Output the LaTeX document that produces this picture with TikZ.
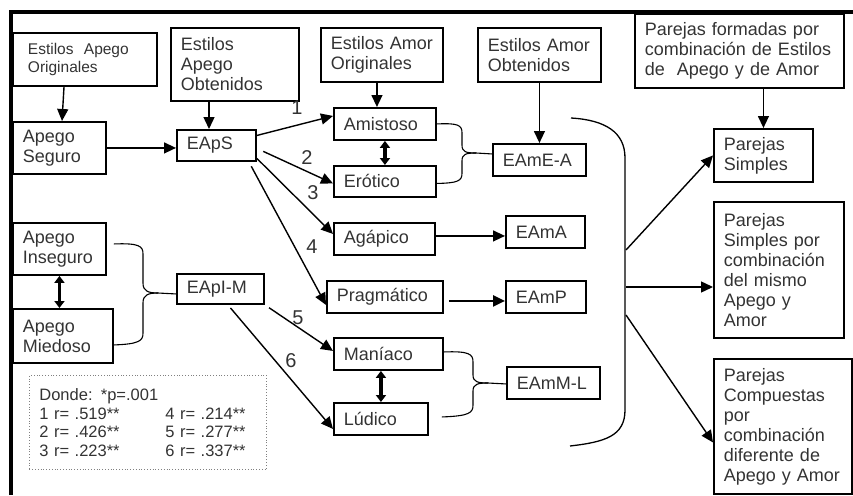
\documentclass[tikz,border=0pt]{standalone}
\usepackage{fontspec}
\setmainfont{Liberation Sans}
\usetikzlibrary{arrows.meta,positioning}
\tikzstyle{caja} = [draw=black, line width=1.9pt, rectangle, anchor=north west, align=left, inner xsep=10pt, inner ysep=0pt, text=black!80, font=\fontsize{18}{20}\selectfont]
\tikzstyle{flecha} = [line width=1.4pt, -{Triangle[length=12pt,width=11pt]}]
\tikzstyle{doble} = [line width=3.2pt, {Triangle[length=7pt,width=10pt]}-{Triangle[length=7pt,width=10pt]}]
\tikzstyle{llave} = [line width=1.1pt]
\tikzstyle{numero} = [text=black!80, font=\fontsize{20}{22}\selectfont]
\tikzstyle{marco} = [line width=3.5pt]

\begin{document}
\begin{tikzpicture}[x=1pt,y=-1pt]
	\useasboundingbox (0,0) rectangle (853,495);
	\draw[marco] (11,495) -- (11,12) -- (853,12);
	% cajas de arriba
	\node[caja, inner xsep=15pt, text width=114pt, minimum height=53pt, font=\fontsize{15.5}{18}\selectfont] (eao) at (12,32) {Estilos\ \ Apego\\Originales};
	\node[caja, text width=108pt, minimum height=73pt] (eaob) at (170,27) {Estilos\\Apego\\Obtenidos};
	\node[caja, text width=102pt, minimum height=54pt] (eamo) at (320,27) {Estilos~Amor\\Originales};
	\node[caja, text width=103pt, minimum height=54pt] (eamob) at (477,27) {Estilos~Amor\\Obtenidos};
	\node[caja, text width=189pt, minimum height=74pt] (pf) at (634,13) {Parejas~formadas~por\\combinaci\'on~de~Estilos\\de\ \ Apego y de Amor};
	% apego
	\node[caja, text width=73pt, minimum height=52pt] (seguro) at (12,121) {Apego\\Seguro};
	\node[caja, text width=73pt, minimum height=52pt] (inseguro) at (12,222) {Apego\\Inseguro};
	\node[caja, text width=80pt, minimum height=54pt] (miedoso) at (12,308) {Apego\\Miedoso};
	\node[caja, text width=59pt, minimum height=31pt] (eaps) at (176,129) {EApS};
	\node[caja, text width=67pt, minimum height=30pt] (eapim) at (176,273) {EApI-M};
	% amor
	\node[caja, text width=82pt, minimum height=32pt] (amistoso) at (333,107) {Amistoso};
	\node[caja, text width=82pt, minimum height=31pt] (erotico) at (333,165) {Er\'otico};
	\node[caja, text width=81pt, minimum height=32pt] (agapico) at (333,222) {Ag\'apico};
	\node[caja, text width=96pt, minimum height=32pt] (pragmatico) at (326,280) {Pragm\'atico};
	\node[caja, text width=89pt, minimum height=32pt] (maniaco) at (333,337) {Man\'iaco};
	\node[caja, text width=74pt, minimum height=32pt] (ludico) at (333,402) {L\'udico};
	\node[caja, text width=73pt, minimum height=32pt] (eamea) at (492,143) {EAmE-A};
	\node[caja, text width=59pt, minimum height=32pt] (eama) at (505,215) {EAmA};
	\node[caja, text width=60pt, minimum height=32pt] (eamp) at (505,280) {EAmP};
	\node[caja, text width=73pt, minimum height=32pt] (eamml) at (506,366) {EAmM-L};
	% parejas
	\node[caja, text width=79pt, minimum height=53pt] (psimples) at (713,128) {Parejas\\Simples};
	\node[caja, text width=110pt, minimum height=136pt] (mismo) at (713,201) {Parejas\\Simples por\\combinaci\'on\\del mismo\\Apego y\\Amor};
	\node[caja, text width=118pt, minimum height=135pt] (compuestas) at (713,358) {Parejas\\Compuestas\\por\\combinaci\'on\\diferente de\\Apego~y~Amor};
	% leyenda
	\node[caja, draw=black!50, line width=0.8pt, dotted, text width=217pt, minimum height=94pt, font=\fontsize{16.5}{18.5}\selectfont] (donde) at (29,375) {Donde: *p=.001\\\makebox[126pt][l]{1 r= .519**}4 r= .214**\\\makebox[126pt][l]{2 r= .426**}5 r= .277**\\\makebox[126pt][l]{3 r= .223**}6 r= .337**};

	% flechas verticales
	\draw[flecha] ([xshift=52pt]eao.south west) -- ([xshift=50pt]seguro.north west);
	\draw[flecha] ([xshift=39pt]eaob.south west) -- ([xshift=33pt]eaps.north west);
	\draw[flecha] ([xshift=-5pt]eamo.south) -- ([xshift=-5pt]eamo.south |- amistoso.north);
	\draw[flecha] (eamob.south) -- (eamea.north);
	\draw[flecha] (pf.south -| psimples.north) -- (psimples.north);
	\draw[flecha] (seguro.east) -- (seguro.east -| eaps.west);

	% correlaciones
	\draw[flecha] ([yshift=10pt]eaps.east) -- ([yshift=8pt]amistoso.west);
	\draw[flecha, shorten <=7pt] ([yshift=-3pt]eaps.east) -- ([yshift=-2pt]erotico.west);
	\draw[flecha] ([yshift=-13pt]eaps.east) -- ([yshift=5pt]agapico.west);
	\draw[flecha, shorten <=5pt] ([xshift=-8pt]eaps.south east) -- ([yshift=-8pt]pragmatico.west);
	\draw[flecha, shorten <=5pt] (eapim.south east) -- ([yshift=3pt]maniaco.west);
	\draw[flecha, shorten <=4pt] ([xshift=-37pt]eapim.south east) -- ([yshift=-10pt]ludico.west);
	\node[numero] (n1) at (297,108) {1};
	\node[numero] (n2) at (307,158) {2};
	\node[numero] (n3) at (313,193) {3};
	\node[numero] (n4) at (312,247) {4};
	\node[numero] (n5) at (298,318) {5};
	\node[numero] (n6) at (291,361) {6};

	\draw[flecha] ([yshift=3pt]agapico.east) -- ([yshift=3pt]agapico.east -| eama.west);
	\draw[flecha, line width=2.2pt, shorten <=5pt] ([yshift=-4pt]pragmatico.east) -- ([yshift=-4pt]eamp.west);

	% dobles
	\draw[doble] (amistoso.south) -- (erotico.north);
	\draw[doble] (inseguro.south) -- (inseguro.south |- miedoso.north);
	\draw[doble] (ludico.north |- maniaco.south) -- (ludico.north);

	% llaves
	\draw[llave] (amistoso.east) .. controls (458,123) and (462,125) .. (462,133) -- (462,145) .. controls (462,152) and (466,153) .. (476,153) -- ([yshift=6pt]eamea.west);
	\draw[llave] ([yshift=-2pt]erotico.east) .. controls (458,183) and (462,181) .. (462,173) -- (462,161) .. controls (462,154) and (466,153) .. (476,153);
	\draw[llave] ([xshift=7pt,yshift=5pt]inseguro.east) .. controls (139,243) and (143,246) .. (143,254) -- (143,283) .. controls (143,291) and (148,293) .. (158,293) -- ([yshift=-5pt]eapim.west);
	\draw[llave] ([yshift=-9pt]miedoso.east) .. controls (139,344) and (143,341) .. (143,333) -- (143,303) .. controls (143,295) and (148,293) .. (158,293);
	\draw[llave] ([yshift=2pt]maniaco.east) .. controls (469,351) and (473,354) .. (473,362) -- (473,375) .. controls (473,382) and (478,383) .. (488,383) -- ([yshift=-1pt]eamml.west);
	\draw[llave] ([xshift=13pt,yshift=2pt]ludico.east) .. controls (469,416) and (473,413) .. (473,405) -- (473,391) .. controls (473,384) and (478,383) .. (488,383);

	% llave grande
	\draw[llave, line width=1.3pt] (571,118) .. controls (605,120) and (625,132) .. (625,158) -- (625,410) .. controls (625,436) and (605,442) .. (570,446);
	\coordinate (b1) at (626,250);
	\coordinate (b2) at (626,287);
	\coordinate (b3) at (626,315);
	\draw[flecha] (b1) -- (psimples.west);
	\draw[flecha] (b2) -- (b2 -| mismo.west);
	\draw[flecha] (b3) -- ([yshift=-16pt]compuestas.west);
\end{tikzpicture}
\end{document}
